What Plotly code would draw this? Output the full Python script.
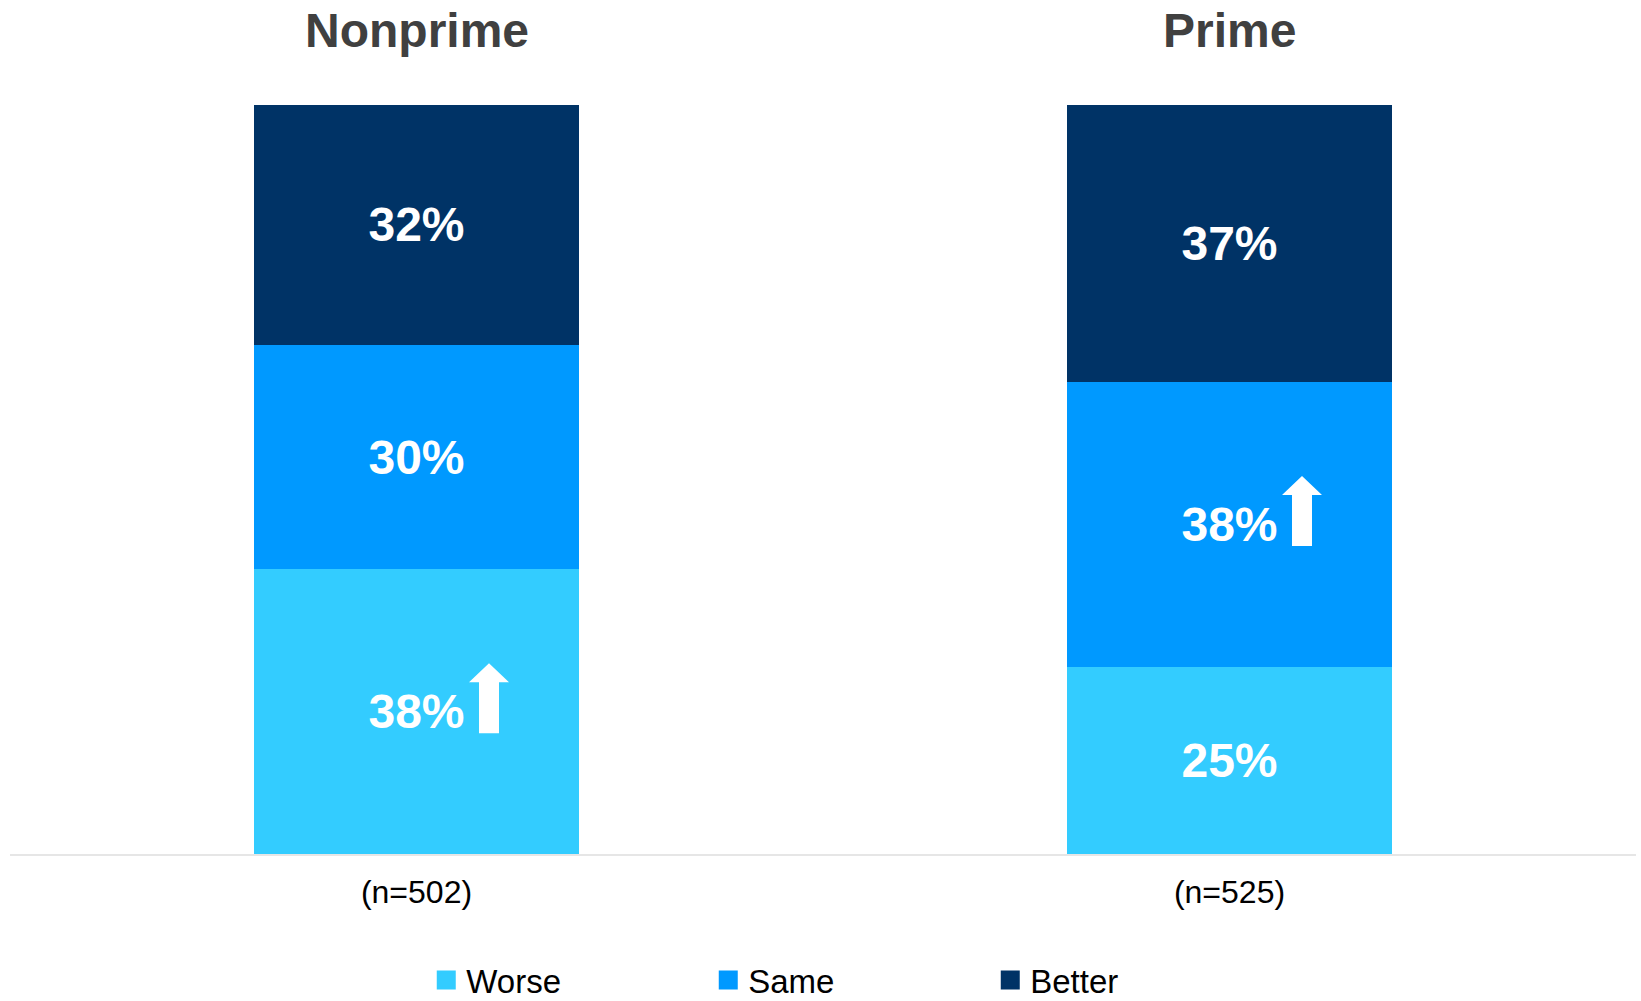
import plotly.graph_objects as go

# Survey groups and their sample sizes
groups = ["Nonprime", "Prime"]
sample_labels = ["(n=502)", "(n=525)"]

# Share of respondents (%) per answer, bottom to top
series = ["Worse", "Same", "Better"]
worse = [38, 25]
same = [30, 38]
better = [32, 37]
values = [worse, same, better]

# Segments flagged as a notable increase (drawn with an up arrow)
increase_flags = [[True, False], [False, True], [False, False]]

colors = ["#33CCFF", "#0099FF", "#003366"]
FONT = "Arial, 'Liberation Sans', sans-serif"

fig = go.Figure()

for name, vals, col in zip(series, values, colors):
    fig.add_trace(go.Bar(
        x=groups,
        y=vals,
        name=name,
        marker=dict(color=col, line=dict(width=0)),
        texttemplate="%{y}%",
        textposition="inside",
        insidetextanchor="middle",
        textangle=0,
        textfont=dict(family=FONT, size=48, color="white", weight="bold"),
        constraintext="none",
        showlegend=False,
    ))

# Legend entries with larger square swatches
for name, col in zip(series, colors):
    fig.add_trace(go.Scatter(
        x=[None], y=[None], mode="markers", name=name,
        marker=dict(symbol="square", size=16, color=col,
                    line=dict(width=3, color=col)),
        showlegend=True,
    ))

# Up arrows next to the flagged segment labels
shapes = []
for s_idx, flags in enumerate(increase_flags):
    for g_idx, flag in enumerate(flags):
        if not flag:
            continue
        base = sum(values[k][g_idx] for k in range(s_idx))
        mid = base + values[s_idx][g_idx] / 2
        dx, yb = 72.5, -21.5
        yh, yt = yb + 51, yb + 70
        path = (f"M{dx-10},{yb} L{dx+10},{yb} L{dx+10},{yh} L{dx+20},{yh} "
                f"L{dx},{yt} L{dx-20},{yh} L{dx-10},{yh} Z")
        shapes.append(dict(
            type="path", xref="x", yref="y",
            xsizemode="pixel", ysizemode="pixel",
            xanchor=g_idx, yanchor=mid,
            path=path, fillcolor="white", line=dict(width=0),
        ))

# Group headings above each bar
annotations = [
    dict(x=g, xref="x", y=1, yref="paper", yanchor="middle", yshift=75,
         text=g, showarrow=False,
         font=dict(family=FONT, size=48, color="#404040", weight="bold"))
    for g in groups
]

fig.update_layout(
    width=1641, height=1001,
    margin=dict(l=10, r=5, t=105, b=147, autoexpand=False),
    barmode="stack",
    bargap=0.6,
    plot_bgcolor="white",
    paper_bgcolor="white",
    shapes=shapes,
    annotations=annotations,
    legend=dict(
        orientation="h",
        traceorder="normal",
        x=0.256, xanchor="left",
        y=-0.1682, yanchor="middle",
        font=dict(family=FONT, size=33, color="black"),
        entrywidth=237,
        bgcolor="rgba(0,0,0,0)",
    ),
    xaxis=dict(
        tickvals=groups,
        ticktext=sample_labels,
        tickfont=dict(family=FONT, size=32, color="black"),
        showline=True, linecolor="#e6e6e6", linewidth=2,
        ticks="", showgrid=False, zeroline=False,
        ticklabelstandoff=9,
    ),
    yaxis=dict(
        range=[0, 100],
        visible=False,
        showgrid=False, zeroline=False,
    ),
)

fig.write_html("out.html")
